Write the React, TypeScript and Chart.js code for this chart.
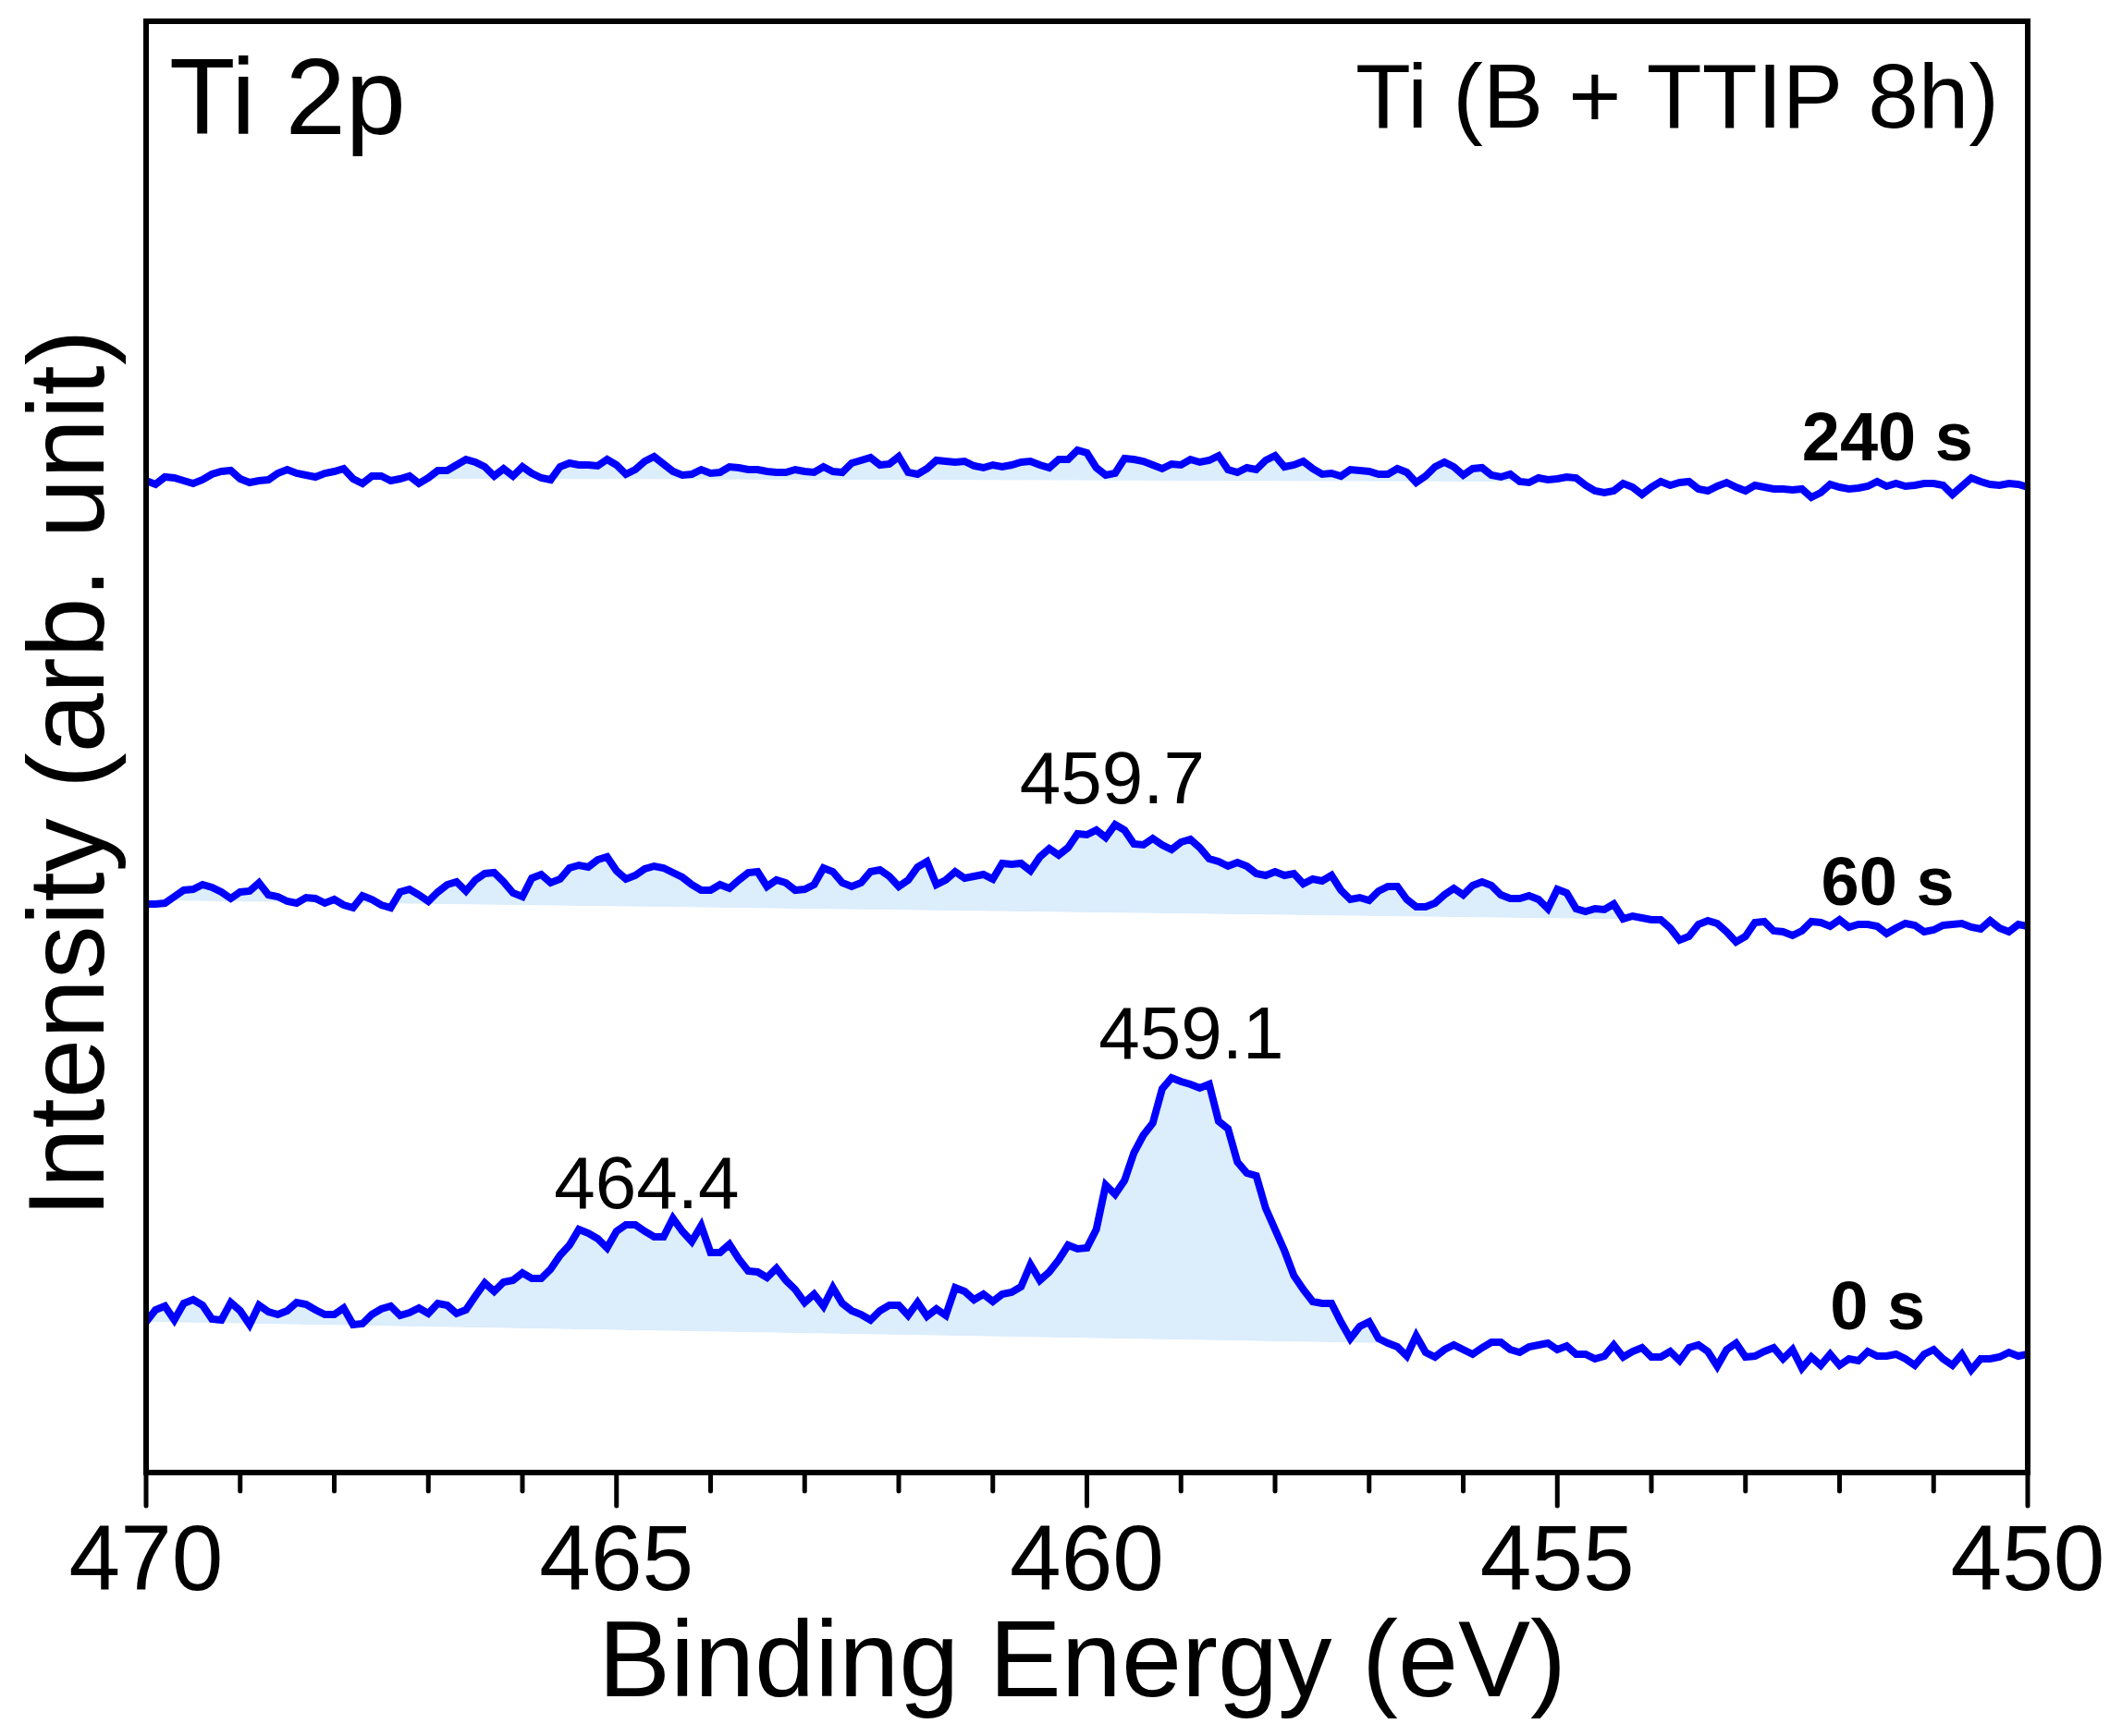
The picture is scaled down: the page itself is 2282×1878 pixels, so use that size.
/**
 * Ti 2p XPS spectra after 0 s / 60 s / 240 s sputtering.
 * Three offset traces with a shaded area above a linear background.
 */

import { useEffect, useRef } from "react"
import { Chart, registerables, type Plugin } from "chart.js"

Chart.register(...registerables)

// ── data ────────────────────────────────────────────────────────
// binding-energy grid: 470.0 eV down to 450.0 eV in 0.1 eV steps
const E_START = 470
const E_STEP = 0.1

// intensities (arb. unit, traces already offset), listed from 470.0 to 450.0 eV
const I_0S = [
  163, 176, 180, 165, 183, 187, 181, 166, 165, 184,
  175, 160, 181, 174, 171, 175, 184, 182, 176, 171,
  171, 178, 160, 161, 171, 177, 180, 170, 173, 178,
  172, 183, 181, 172, 176, 191, 205, 196, 206, 208,
  216, 210, 210, 220, 235, 246, 263, 259, 253, 243,
  261, 268, 268, 261, 255, 255, 275, 261, 250, 267,
  238, 238, 247, 231, 218, 217, 211, 221, 208, 198,
  184, 193, 180, 200, 183, 175, 171, 165, 175, 181,
  181, 170, 184, 169, 177, 170, 200, 196, 187, 193,
  185, 193, 195, 201, 225, 208, 217, 230,
  246, 242, 243, 263, 311, 301, 316, 346, 365, 378,
  415, 427, 423, 420, 416, 420, 380, 372, 336, 324,
  321, 286, 263, 240, 213, 198, 185, 183, 183, 163,
  145, 158, 163, 145, 140, 136, 126, 148, 130, 125,
  133, 138, 133, 128, 135, 141, 141, 133, 130, 136,
  138, 140, 133, 137, 128, 128, 123, 126, 138, 125,
  131, 135, 125, 125, 131, 121, 135, 138, 131, 115,
  133, 140, 125, 126, 131, 135, 123, 133, 113, 125,
  116, 128, 116, 123, 121, 131, 126, 126, 128, 123,
  116, 128, 133, 123, 116, 128, 111, 123, 123, 125,
  130, 126, 128,
]

const I_60S = [
  615, 615, 616, 623, 630, 631, 636, 633, 628, 621,
  628, 629, 638, 625, 623, 618, 616, 622, 621, 616,
  620, 614, 611, 624, 620, 614, 611, 628, 631, 625,
  618, 628, 636, 639, 629, 641, 648, 649, 639, 627,
  623, 643, 647, 638, 642, 654, 657, 655, 663, 666,
  651, 642, 646, 653, 656, 654, 649, 644, 636, 630,
  630, 636, 632, 641, 649, 650, 634, 641, 638, 630,
  631, 636, 654, 650, 638, 634, 638, 650, 652, 645,
  634, 641, 655, 661, 636, 641, 650, 643, 645, 647,
  642, 659, 658, 659, 651, 666, 675, 668,
  676, 691, 690, 695, 687, 701, 695, 680, 679, 686,
  679, 674, 682, 685, 676, 664, 661, 656, 660, 656,
  648, 646, 650, 646, 648, 637, 642, 640, 646, 630,
  620, 622, 619, 629, 634, 634, 620, 612, 612, 616,
  625, 632, 625, 635, 639, 635, 625, 621, 621, 624,
  620, 610, 631, 627, 610, 607, 610, 609, 615, 599,
  602, 600, 598, 598, 589, 576, 580, 593, 597, 594,
  585, 574, 580, 595, 596, 586, 585, 581, 586, 596,
  595, 591, 598, 590, 593, 593, 591, 583, 589, 594,
  592, 585, 587, 592, 593, 594, 590, 588, 597, 589,
  585, 593, 591,
]

const I_240S = [
  1073, 1069, 1077, 1076, 1073, 1070, 1074, 1080, 1083, 1084,
  1075, 1071, 1073, 1074, 1081, 1085, 1081, 1079, 1077, 1081,
  1083, 1086, 1075, 1070, 1078, 1078, 1073, 1075, 1078, 1070,
  1076, 1084, 1084, 1090, 1096, 1093, 1088, 1078, 1086, 1078,
  1088, 1081, 1076, 1074, 1088, 1092, 1090, 1090, 1089, 1096,
  1090, 1080, 1085, 1094, 1099, 1091, 1083, 1079, 1080, 1085,
  1081, 1082, 1088, 1087, 1085, 1085, 1083, 1082, 1082, 1085,
  1083, 1082, 1088, 1083, 1082, 1092, 1095, 1098, 1090, 1091,
  1099, 1082, 1080, 1086, 1095, 1094, 1093, 1094, 1089, 1087,
  1090, 1088, 1090, 1093, 1094, 1090, 1087, 1096,
  1096, 1106, 1103, 1087, 1079, 1081, 1097, 1096, 1094, 1090,
  1086, 1091, 1090, 1096, 1093, 1095, 1100, 1085, 1082, 1087,
  1085, 1095, 1100, 1088, 1090, 1094, 1086, 1080, 1081, 1078,
  1085, 1084, 1083, 1080, 1080, 1086, 1082, 1071, 1078, 1088,
  1093, 1088, 1079, 1086, 1087, 1079, 1077, 1080, 1072, 1071,
  1076, 1074, 1075, 1077, 1076, 1068, 1062, 1060, 1062, 1070,
  1066, 1058, 1066, 1072, 1068, 1071, 1072, 1064, 1062, 1067,
  1071, 1066, 1062, 1068, 1066, 1064, 1064, 1063, 1064, 1055,
  1060, 1069, 1066, 1064, 1065, 1067, 1072, 1067, 1070, 1067,
  1068, 1070, 1070, 1068, 1058, 1067, 1076, 1072, 1069, 1068,
  1070, 1069, 1066,
]

// linear backgrounds under each trace (energy, intensity), low energy first
const BG_0S_E = [450, 470]
const BG_0S_I = [128, 163]
const BG_60S_E = [450, 470]
const BG_60S_I = [593, 619]
const BG_240S_E = [451, 467]
const BG_240S_I = [1071, 1075]

// trace names, anchored (right-aligned) near the high-BE end of each trace
const TRACE_NAMES = ["0 s", "60 s", "240 s"]
const TRACE_NAME_E = [451.09, 450.78, 450.58]
const TRACE_NAME_I = [155, 614, 1095]

// peak position labels (centred)
const PEAK_TEXT = ["464.4", "459.1", "459.7"]
const PEAK_E = [464.68, 458.89, 459.73]
const PEAK_I = [286, 448, 724]

// ── styling ─────────────────────────────────────────────────────
const FONT = '"Liberation Sans", Arial, Helvetica, sans-serif'
const LINE_COLOR = "#0000ff"
const FILL_COLOR = "#dcedfc"
const CLEAR = "rgba(0,0,0,0)"

function toPoints(values: number[]) {
  // the filler wants x increasing, so build the points low energy first
  return values
    .map((y, i) => ({ x: +(E_START - i * E_STEP).toFixed(1), y }))
    .reverse()
}

function toXY(xs: number[], ys: number[]) {
  return xs.map((x, i) => ({ x, y: ys[i] }))
}

const decorations: Plugin<"line"> = {
  id: "decorations",
  afterDraw(chart) {
    const { ctx, chartArea: a, scales } = chart
    const xs = scales.x
    const ys = scales.y

    ctx.save()

    // frame
    ctx.strokeStyle = "#000"
    ctx.lineWidth = 6
    ctx.strokeRect(a.left, a.top, a.right - a.left, a.bottom - a.top)

    // outward ticks on the bottom axis: long every 5 eV, short every 1 eV
    ctx.lineWidth = 5
    ctx.lineCap = "round"
    for (const t of xs.ticks) {
      const px = xs.getPixelForValue(t.value)
      const len = Math.round(t.value) % 5 === 0 ? 36 : 20
      ctx.beginPath()
      ctx.moveTo(px, a.bottom)
      ctx.lineTo(px, a.bottom + len)
      ctx.stroke()
    }

    ctx.fillStyle = "#000"
    ctx.textBaseline = "alphabetic"

    // panel titles
    ctx.font = `117px ${FONT}`
    ctx.textAlign = "left"
    ctx.fillText("Ti 2p", a.left + 25, a.top + 122)
    ctx.font = `98px ${FONT}`
    ctx.textAlign = "right"
    ctx.fillText("Ti (B + TTIP 8h)", a.right - 31, a.top + 115)

    // trace names
    ctx.font = `bold 74px ${FONT}`
    ctx.textAlign = "right"
    TRACE_NAMES.forEach((name, i) => {
      ctx.fillText(name, xs.getPixelForValue(TRACE_NAME_E[i]), ys.getPixelForValue(TRACE_NAME_I[i]))
    })

    // peak labels
    ctx.font = `80px ${FONT}`
    ctx.textAlign = "center"
    PEAK_TEXT.forEach((txt, i) => {
      ctx.fillText(txt, xs.getPixelForValue(PEAK_E[i]), ys.getPixelForValue(PEAK_I[i]))
    })

    // axis titles
    ctx.font = `117px ${FONT}`
    ctx.textAlign = "center"
    ctx.fillText("Binding Energy (eV)", (a.left + a.right) / 2 - 5, 1835)

    ctx.translate(112, (a.top + a.bottom) / 2 + 29)
    ctx.rotate(-Math.PI / 2)
    ctx.font = `116px ${FONT}`
    ctx.fillText("Intensity (arb. unit)", 0, 0)

    ctx.restore()
  },
}

export default function App() {
  const canvasRef = useRef<HTMLCanvasElement>(null)

  useEffect(() => {
    const canvas = canvasRef.current
    if (!canvas) return

    const background = (data: { x: number; y: number }[]) => ({
      data,
      borderColor: CLEAR,
      borderWidth: 0,
      pointRadius: 0,
      fill: false,
    })

    const trace = (label: string, values: number[], bgIndex: number) => ({
      label,
      data: toPoints(values),
      borderColor: LINE_COLOR,
      borderWidth: 8,
      pointRadius: 0,
      tension: 0,
      fill: { target: bgIndex, above: FILL_COLOR, below: CLEAR },
    })

    const chart = new Chart(canvas, {
      type: "line",
      data: {
        datasets: [
          background(toXY(BG_0S_E, BG_0S_I)),
          background(toXY(BG_60S_E, BG_60S_I)),
          background(toXY(BG_240S_E, BG_240S_I)),
          trace(TRACE_NAMES[0], I_0S, 0),
          trace(TRACE_NAMES[1], I_60S, 1),
          trace(TRACE_NAMES[2], I_240S, 2),
        ] as any,
      },
      options: {
        animation: false,
        responsive: false,
        devicePixelRatio: 1,
        layout: { padding: { left: 158, top: 23, right: 89, bottom: 0 } },
        plugins: {
          legend: { display: false },
          tooltip: { enabled: false },
        },
        scales: {
          x: {
            type: "linear",
            min: 450,
            max: 470,
            reverse: true,
            border: { display: false },
            grid: { display: false },
            afterFit: (scale: any) => {
              // fixed plot box: no extra room for the edge labels
              scale.height = 285
              scale.paddingLeft = 0
              scale.paddingRight = 0
            },
            ticks: {
              stepSize: 1,
              autoSkip: false,
              maxRotation: 0,
              padding: 31,
              color: "#000",
              font: { family: FONT, size: 100 },
              callback: (v) => (Math.round(Number(v)) % 5 === 0 ? String(v) : ""),
            },
          },
          y: {
            type: "linear",
            display: false,
            min: 0,
            max: 1570,
          },
        },
      },
      plugins: [decorations],
    })

    return () => {
      chart.destroy()
    }
  }, [])

  return (
    <div
      style={{
        position: "absolute",
        left: 0,
        top: 0,
        width: 2282,
        height: 1878,
        background: "#fff",
      }}
    >
      <canvas ref={canvasRef} width={2282} height={1878} style={{ display: "block" }} />
    </div>
  )
}
